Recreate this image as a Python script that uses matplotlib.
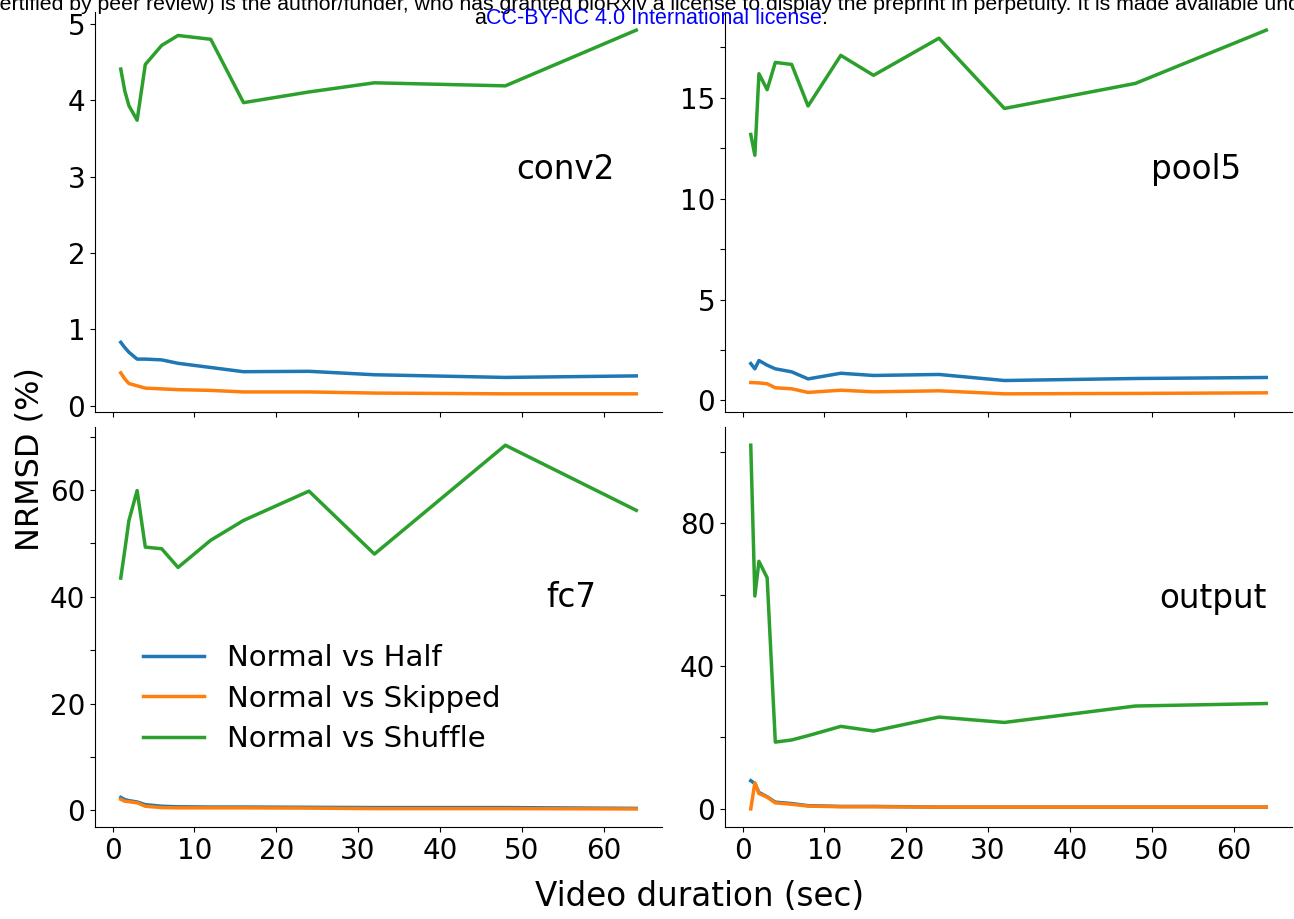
import matplotlib
matplotlib.use("Agg")
import matplotlib.pyplot as plt

# durations of the test videos (sec)
durations = [1, 1.5, 2, 3, 4, 6, 8, 12, 16, 24, 32, 48, 64]

series_names = ["Normal vs Half", "Normal vs Skipped", "Normal vs Shuffle"]
series_colors = ["tab:blue", "tab:orange", "tab:green"]

# NRMSD (%) per layer
conv2_half = [0.83, 0.76, 0.70, 0.61, 0.61, 0.60, 0.555, 0.50, 0.445, 0.45, 0.405, 0.37, 0.39]
conv2_skip = [0.43, 0.35, 0.29, 0.26, 0.23, 0.22, 0.21, 0.20, 0.18, 0.18, 0.165, 0.155, 0.155]
conv2_shuf = [4.41, 4.12, 3.93, 3.74, 4.47, 4.72, 4.85, 4.80, 3.97, 4.11, 4.23, 4.19, 4.92]

pool5_half = [1.83, 1.57, 1.98, 1.75, 1.57, 1.42, 1.07, 1.35, 1.24, 1.29, 0.99, 1.09, 1.14]
pool5_skip = [0.89, 0.88, 0.87, 0.83, 0.63, 0.58, 0.40, 0.51, 0.43, 0.48, 0.33, 0.35, 0.38]
pool5_shuf = [13.18, 12.15, 16.19, 15.40, 16.75, 16.65, 14.59, 17.10, 16.11, 17.95, 14.47, 15.71, 18.35]

fc7_half = [2.4, 2.0, 1.8, 1.55, 1.05, 0.75, 0.65, 0.6, 0.6, 0.55, 0.5, 0.5, 0.35]
fc7_skip = [2.05, 1.7, 1.6, 1.4, 0.75, 0.5, 0.45, 0.45, 0.45, 0.4, 0.3, 0.3, 0.25]
fc7_shuf = [43.5, 48.8, 54.3, 59.9, 49.3, 49.0, 45.5, 50.6, 54.3, 59.8, 48.0, 68.4, 56.2]

output_half = [7.9, 7.1, 4.6, 3.4, 1.9, 1.5, 0.9, 0.7, 0.7, 0.5, 0.5, 0.5, 0.5]
output_skip = [0.0, 7.3, 4.3, 3.3, 1.7, 1.3, 0.8, 0.6, 0.6, 0.5, 0.5, 0.5, 0.5]
output_shuf = [101.8, 59.6, 69.3, 64.7, 18.7, 19.3, 20.5, 23.1, 21.8, 25.7, 24.2, 28.8, 29.5]

layers = ["conv2", "pool5", "fc7", "output"]
layer_data = [
    (conv2_half, conv2_skip, conv2_shuf),
    (pool5_half, pool5_skip, pool5_shuf),
    (fc7_half, fc7_skip, fc7_shuf),
    (output_half, output_skip, output_shuf),
]
# y ticks: every tick position, and which of them get a label
ytick_pos = [
    [0, 1, 2, 3, 4, 5],
    [0, 2.5, 5, 7.5, 10, 12.5, 15, 17.5],
    [0, 10, 20, 30, 40, 50, 60, 70],
    [0, 20, 40, 60, 80, 100],
]
ytick_lab = [
    ["0", "1", "2", "3", "4", "5"],
    ["0", "", "5", "", "10", "", "15", ""],
    ["0", "", "20", "", "40", "", "60", ""],
    ["0", "", "40", "", "80", ""],
]
label_pos = [(0.83, 0.606), (0.83, 0.607), (0.84, 0.574), (0.86, 0.572)]

fig = plt.figure(figsize=(12.94, 9.19), dpi=100)
gs = fig.add_gridspec(2, 2, left=0.0734, right=0.9985, top=0.987, bottom=0.100,
                      hspace=0.0375, wspace=0.111)

for i, name in enumerate(layers):
    ax = fig.add_subplot(gs[i // 2, i % 2])
    for vals, lbl, col in zip(layer_data[i], series_names, series_colors):
        ax.plot(durations, vals, color=col, lw=2.5, label=lbl)
    ax.spines["top"].set_visible(False)
    ax.spines["right"].set_visible(False)
    ax.set_xticks([0, 10, 20, 30, 40, 50, 60])
    if i < 2:
        ax.set_xticklabels([])
    ax.set_yticks(ytick_pos[i])
    ax.set_yticklabels(ytick_lab[i])
    ax.tick_params(labelsize=20)
    ax.text(label_pos[i][0], label_pos[i][1], name, transform=ax.transAxes,
            fontsize=23.5, ha="center", va="center")
    if name == "fc7":
        ax.legend(loc="lower left", bbox_to_anchor=(0.038, 0.12), frameon=False,
                  fontsize=21, handlelength=2.1, handletextpad=0.8, labelspacing=0.42)

fig.text(30 / 1294, 0.5, "NRMSD (%)", rotation=90, fontsize=23,
         ha="center", va="center")
fig.text(700 / 1294, 1 - 897 / 919, "Video duration (sec)", fontsize=23.5,
         ha="center", va="center")

# bioRxiv licence header
hdr = dict(fontsize=15.5, family="Liberation Sans", va="center")
fig.text(-0.0085, 1 - 4 / 919,
         "certified by peer review) is the author/funder, who has granted bioRxiv a license "
         "to display the preprint in perpetuity. It is made available under",
         ha="left", fontsize=15.3, family="Liberation Sans", va="center")
y2 = 1 - 19 / 919
lic = fig.text(0.5054, y2, "CC-BY-NC 4.0 International license",
               color="blue", ha="center", **hdr)
fig.canvas.draw()
bb = lic.get_window_extent().transformed(fig.transFigure.inverted())
fig.text(bb.x0, y2, "a", ha="right", **hdr)
fig.text(bb.x1, y2, ".", ha="left", **hdr)

fig.savefig("out.png", dpi=100)
